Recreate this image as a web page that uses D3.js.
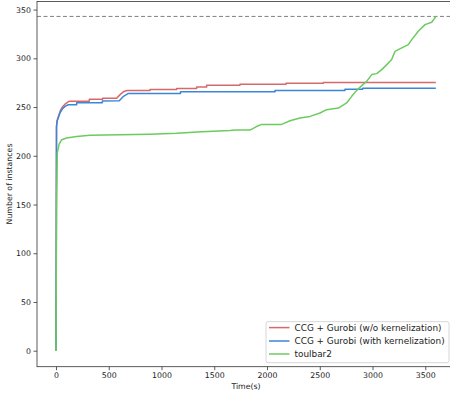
<!DOCTYPE html>
<html><head><meta charset="utf-8">
<script src="https://cdn.jsdelivr.net/npm/d3@7"></script>
<style>html,body{margin:0;padding:0;overflow:hidden;background:#fff}</style>
</head><body>
<script>
// times (s) and cumulative solved instances; repeated times mark step edges
const redTimes  = [0, 2, 5, 10, 22, 40, 60, 85, 126, 316, 316, 442, 442, 575, 610, 645, 676, 891, 891, 1144, 1144, 1333, 1333, 1428, 1428, 1744, 1744, 2180, 2180, 2534, 2534, 3600];
const redVals   = [0, 60, 230, 236, 240, 246, 250, 253, 256, 256, 258, 258, 259, 259, 263, 266, 267, 267, 268, 268, 269, 269, 270.5, 270.5, 272.5, 272.5, 273.5, 273.5, 274.3, 274.3, 275.3, 275.3];
const blueTimes = [0, 3, 5, 12, 38, 60, 85, 117, 196, 196, 439, 439, 600, 640, 686, 1180, 1180, 2076, 2076, 2739, 2739, 2907, 2907, 3600];
const blueVals  = [0, 120, 230, 236, 244, 248, 250.7, 252.4, 252.4, 254.5, 254.5, 256.2, 256.5, 261, 264, 264, 265.8, 265.8, 267.1, 267.1, 268.2, 268.2, 269.2, 269.2];
const greenTimes = [0, 5, 12, 30, 54, 100, 196, 322, 891, 1144, 1381, 1649, 1697, 1839, 1900, 1950, 2139, 2218, 2313, 2408, 2502, 2566, 2676, 2755, 2803, 2850, 2898, 2945, 2992, 3040, 3087, 3135, 3182, 3213, 3277, 3340, 3372, 3434, 3498, 3561, 3602];
const greenVals  = [0, 150, 203, 212, 216.5, 218.2, 219.9, 221, 222, 223, 224.7, 226, 226.4, 226.4, 230, 232.2, 232.2, 236, 238.8, 240.4, 243.9, 247.3, 249, 254.2, 261, 267.1, 272, 276.4, 283.3, 284.3, 288.4, 293.5, 298.7, 307.2, 310.7, 314, 319.2, 327.8, 334.6, 337, 343];
const totalInstances = 343;
const seriesNames = ["CCG + Gurobi (w/o kernelization)", "CCG + Gurobi (with kernelization)", "toulbar2"];
const seriesColors = ["#d6696b", "#3b86d8", "#6ccb5f"];
const xTicks = [0, 500, 1000, 1500, 2000, 2500, 3000, 3500];
const yTicks = [0, 50, 100, 150, 200, 250, 300, 350];

const W = 456, H = 394;
const svg = d3.select("body").append("svg").attr("width", W).attr("height", H)
  .style("font-family", "DejaVu Sans, sans-serif");
const x = d3.scaleLinear().domain([-180, 3780]).range([37, 454.8]);
const y = d3.scaleLinear().domain([-16.4, 358.3]).range([366.7, 1.5]);

svg.append("line").attr("x1", x(-180)).attr("x2", x(3780))
  .attr("y1", y(totalInstances)).attr("y2", y(totalInstances))
  .attr("stroke", "#808080").attr("stroke-width", 1).attr("stroke-dasharray", "4,2.5");

const mk = (ts, vs) => ts.map((t, i) => [t, vs[i]]);
const series = [mk(redTimes, redVals), mk(blueTimes, blueVals), mk(greenTimes, greenVals)];
series.forEach((d, i) => {
  svg.append("path").datum(d)
    .attr("fill", "none").attr("stroke", seriesColors[i]).attr("stroke-width", 1.5)
    .attr("stroke-linejoin", "round")
    .attr("d", d3.line().x(p => x(p[0])).y(p => y(p[1])));
});

const gx = svg.append("g").attr("transform", `translate(0,${y.range()[0]})`)
  .call(d3.axisBottom(x).tickValues(xTicks).tickSize(3.5).tickPadding(2.5).tickFormat(d3.format("d")));
const gy = svg.append("g").attr("transform", `translate(${x.range()[0]},0)`)
  .call(d3.axisLeft(y).tickValues(yTicks).tickSize(3.5).tickPadding(2.5).tickFormat(d3.format("d")));
[gx, gy].forEach(g => {
  g.select(".domain").remove();
  g.selectAll("line").attr("stroke", "#333").attr("stroke-width", 0.8);
  g.selectAll("text").attr("fill", "#222").style("font-size", "7.8px").style("font-family", "DejaVu Sans, sans-serif");
});
svg.append("rect").attr("x", x.range()[0]).attr("y", y.range()[1])
  .attr("width", x.range()[1] - x.range()[0]).attr("height", y.range()[0] - y.range()[1])
  .attr("fill", "none").attr("stroke", "#333").attr("stroke-width", 0.8);

svg.append("text").attr("x", 246).attr("y", 389).attr("text-anchor", "middle")
  .style("font-size", "7.8px").attr("fill", "#222").text("Time(s)");
svg.append("text").attr("transform", "translate(12,184) rotate(-90)").attr("text-anchor", "middle")
  .style("font-size", "7.8px").attr("fill", "#222").text("Number of instances");

const lg = svg.append("g");
lg.append("rect").attr("x", 266).attr("y", 321.7).attr("width", 183).attr("height", 41)
  .attr("rx", 2).attr("fill", "#fff").attr("fill-opacity", 0.8).attr("stroke", "#ccc").attr("stroke-width", 0.8);
const rowsY = [327.6, 341, 354];
seriesNames.forEach((n, i) => {
  lg.append("line").attr("x1", 269).attr("x2", 289.5).attr("y1", rowsY[i]).attr("y2", rowsY[i])
    .attr("stroke", seriesColors[i]).attr("stroke-width", 1.5);
  lg.append("text").attr("x", 294.5).attr("y", rowsY[i]).attr("dy", "0.35em")
    .style("font-size", "8.9px").attr("fill", "#222").text(n);
});
</script>
</body></html>
